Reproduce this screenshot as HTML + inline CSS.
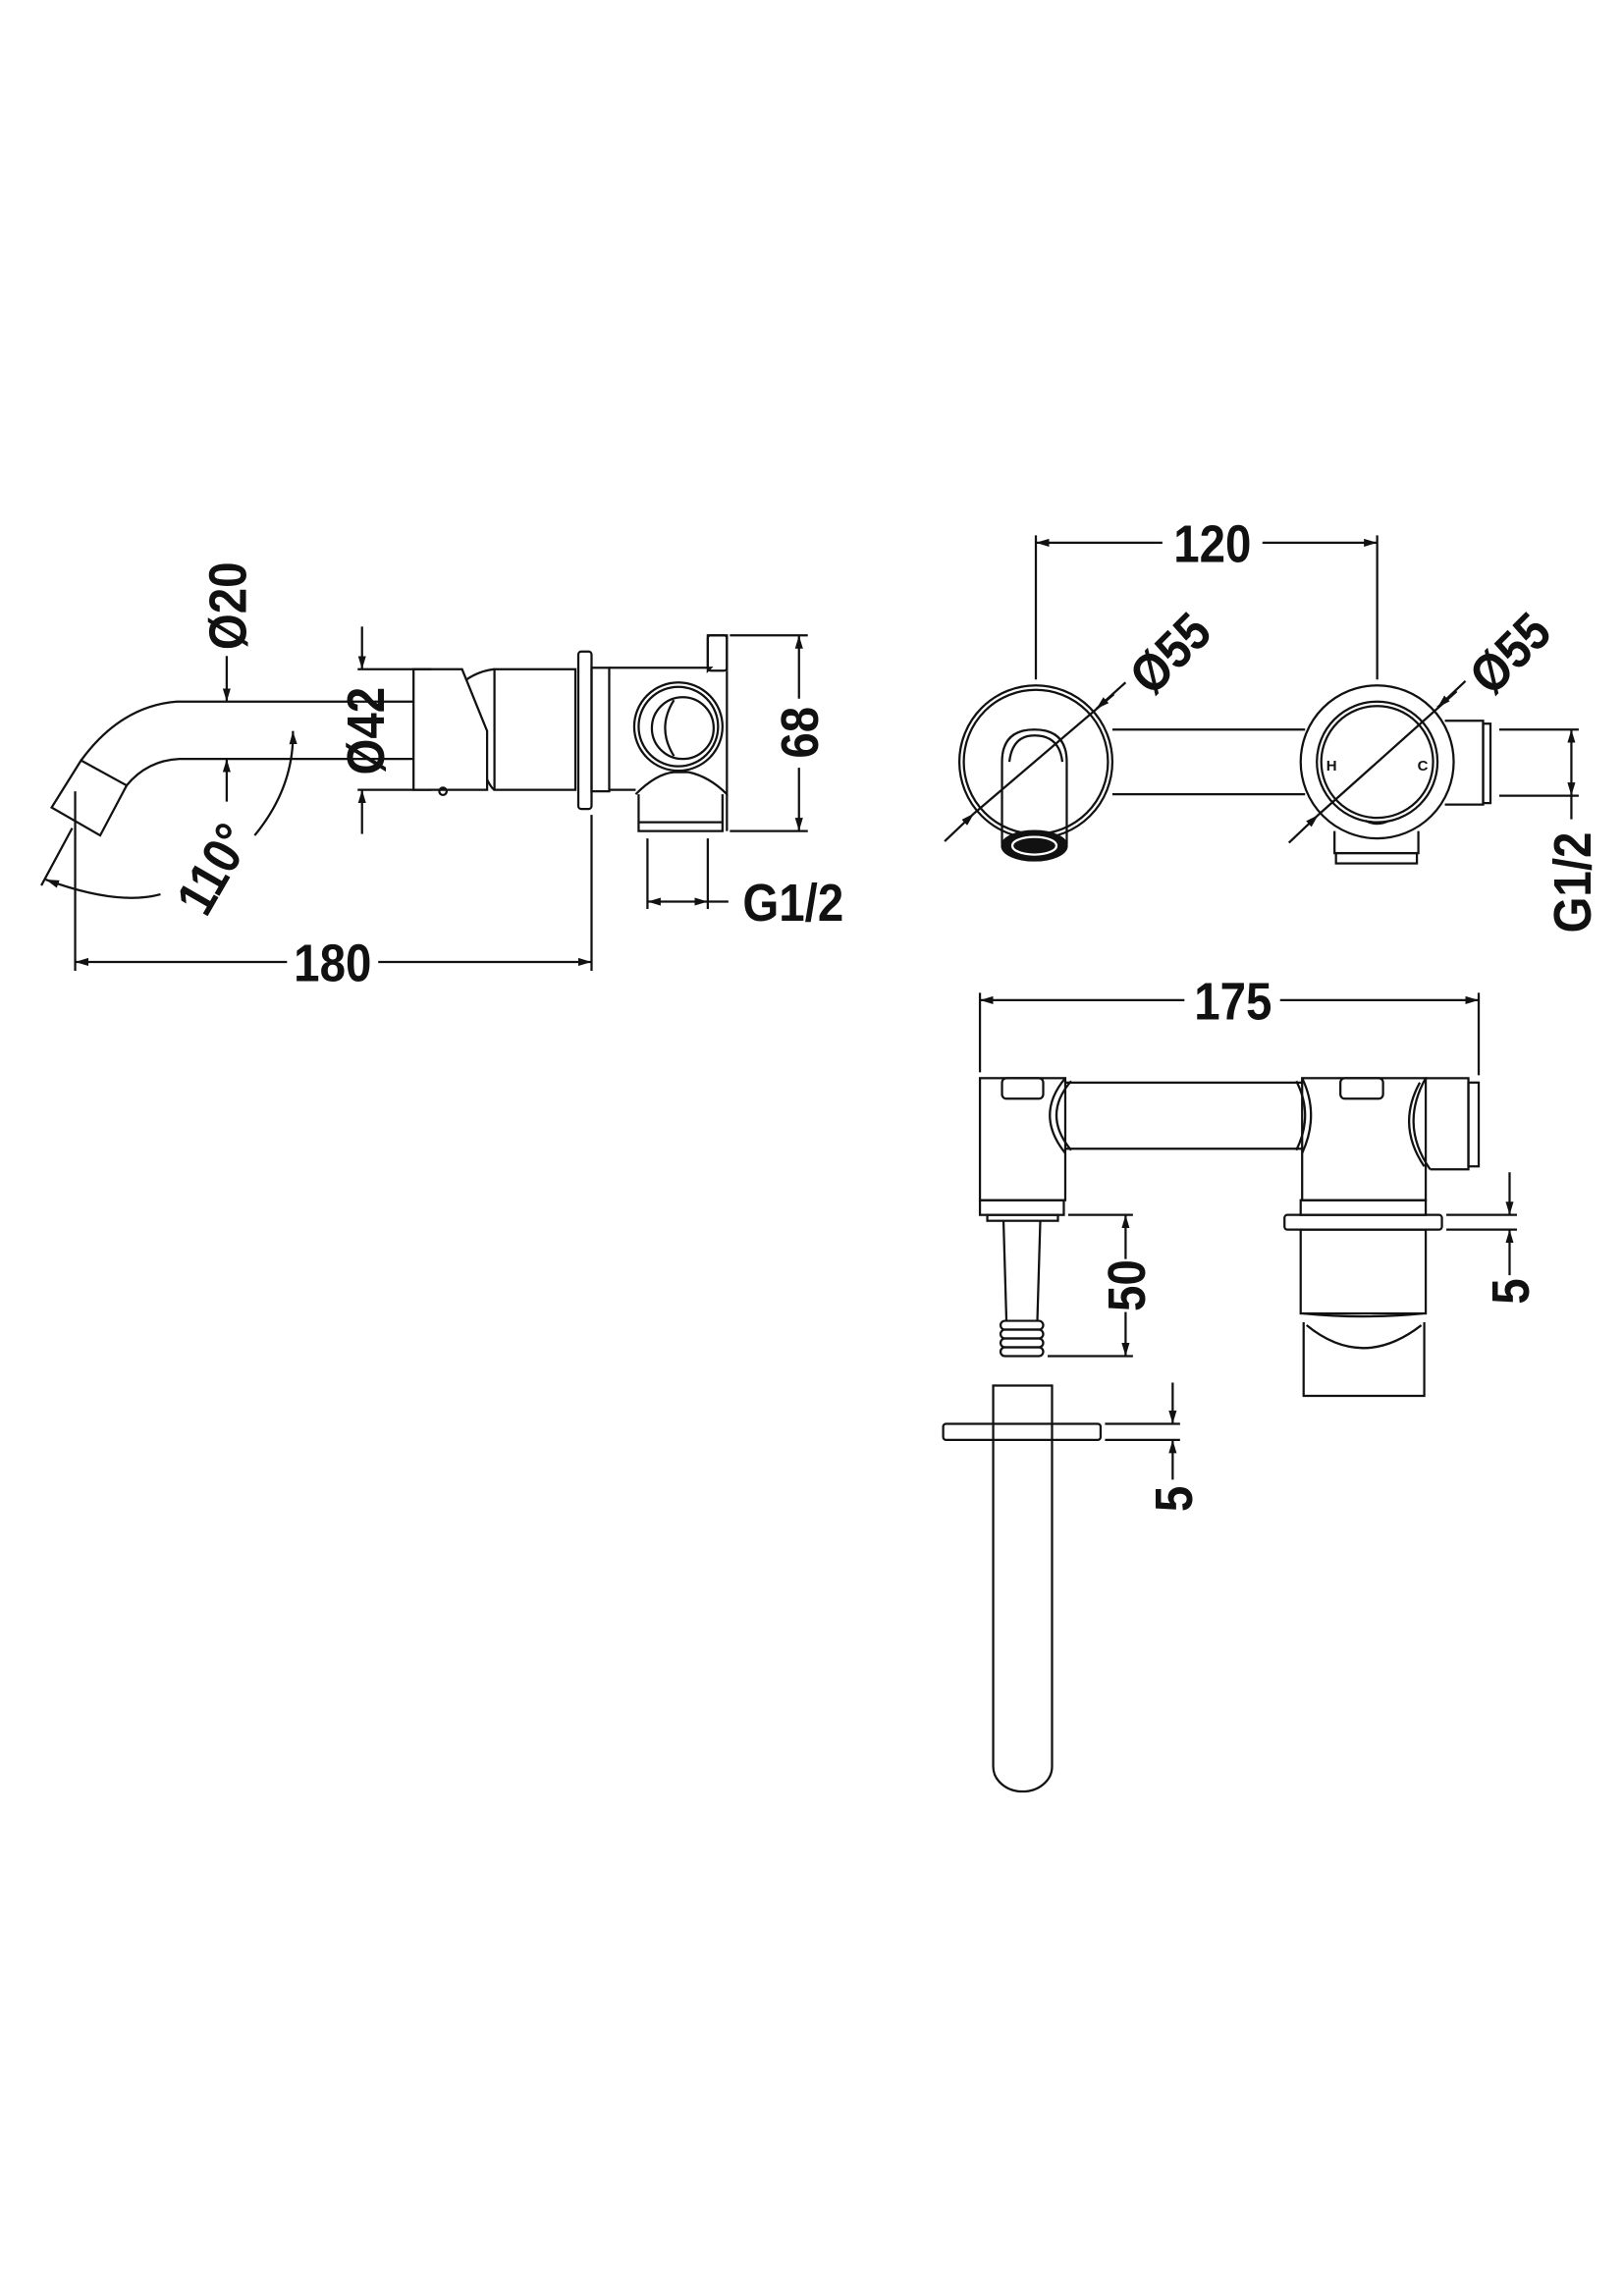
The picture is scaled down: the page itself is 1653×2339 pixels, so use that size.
<!DOCTYPE html>
<html><head><meta charset="utf-8"><style>
html,body{margin:0;padding:0;background:#fff}
svg{display:block}
text{font-family:"Liberation Sans",sans-serif;font-weight:bold;fill:#111}
</style></head><body>
<svg width="1653" height="2339" viewBox="0 0 1103 1561" xmlns="http://www.w3.org/2000/svg">
<defs>
<marker id="a" viewBox="0 0 10 10" refX="10" refY="5" markerWidth="9" markerHeight="9" markerUnits="userSpaceOnUse" orient="auto-start-reverse"><path d="M0,2 L10,5 L0,8z" fill="#111"/></marker>
</defs>
<g fill="none" stroke="#111" stroke-width="1.5">
<!-- LEFT SIDE VIEW -->
<path d="M281,477 L120,477 Q82,480 55,517"/>
<path d="M281,516 L122,516 Q100,517 86,534"/>
<path d="M55,517 L86,534 L68,568 L35,549 Z"/>
<path d="M281,455 L314,455 L331,497 L331,537 L281,537 Z"/>
<path d="M317,462 Q326,456 336,455"/>
<path d="M331,530 Q334,536 336,537"/>
<circle cx="301" cy="538" r="2.5"/>
<rect x="336" y="455" width="55" height="82"/>
<rect x="393" y="443" width="9" height="107" rx="2"/>
<rect x="402" y="454" width="12" height="84"/>
<path d="M414,454 L483,454 L481,456 L481,432 L494,432 L494,456"/>
<rect x="481" y="432" width="13" height="24" rx="2"/>
<line x1="494" y1="456" x2="494" y2="565"/>
<line x1="414" y1="537" x2="432" y2="537"/>
<circle cx="461" cy="494" r="30"/>
<circle cx="461" cy="494" r="27"/>
<circle cx="464" cy="495" r="21"/>
<path d="M458,476 Q446,495 458,514"/>
<path d="M432,540 Q446,526 458,525 L468,525 Q482,528 494,540"/>
<path d="M434,540 L434,565 L491,565 L491,540"/>
<line x1="434" y1="559" x2="491" y2="559"/>
<line x1="243" y1="455" x2="293" y2="455"/>
<line x1="243" y1="537" x2="293" y2="537"/>
<line x1="246" y1="426" x2="246" y2="455" marker-end="url(#a)"/>
<line x1="246" y1="567" x2="246" y2="537" marker-end="url(#a)"/>
<line x1="154" y1="446" x2="154" y2="477" marker-end="url(#a)"/>
<line x1="154" y1="545" x2="154" y2="516" marker-end="url(#a)"/>
<line x1="496" y1="432" x2="549" y2="432"/>
<line x1="496" y1="565" x2="549" y2="565"/>
<line x1="543" y1="475" x2="543" y2="432" marker-end="url(#a)"/>
<line x1="543" y1="522" x2="543" y2="565" marker-end="url(#a)"/>
<line x1="440" y1="570" x2="440" y2="618"/>
<line x1="481" y1="570" x2="481" y2="618"/>
<line x1="440" y1="613" x2="481" y2="613" marker-start="url(#a)" marker-end="url(#a)"/>
<line x1="481" y1="613" x2="495" y2="613"/>
<line x1="51" y1="538" x2="51" y2="660"/>
<line x1="402" y1="554" x2="402" y2="660"/>
<line x1="51" y1="654" x2="195" y2="654" marker-start="url(#a)"/>
<line x1="257" y1="654" x2="402" y2="654" marker-end="url(#a)"/>
<line x1="49" y1="563" x2="28" y2="602"/>
<path d="M109,608 Q80,616 31,598" marker-end="url(#a)"/>
<path d="M173,568 Q200,535 199,497" marker-end="url(#a)"/>

<!-- RIGHT TOP FRONT VIEW -->
<line x1="704" y1="364" x2="704" y2="462"/>
<line x1="936" y1="364" x2="936" y2="462"/>
<line x1="704" y1="369" x2="790" y2="369" marker-start="url(#a)"/>
<line x1="858" y1="369" x2="936" y2="369" marker-end="url(#a)"/>
<circle cx="704" cy="518" r="52"/>
<circle cx="704" cy="518" r="49"/>
<path d="M756,496 L887,496 M756,540 L887,540"/>
<path d="M681,574 L681,518 Q681,496 703,496 Q725,496 725,518 L725,574"/>
<path d="M686,518 Q688,500 703,500 Q720,500 722,518"/>
<ellipse cx="703" cy="575" rx="22" ry="10" fill="#111"/>
<ellipse cx="703" cy="575" rx="15" ry="6" stroke="#fff"/>
<circle cx="936" cy="518" r="52"/>
<circle cx="936" cy="518" r="41"/>
<circle cx="936" cy="518" r="38"/>
<path d="M928,558 Q936,562 944,558"/>
<path d="M982,490 L1008,490 L1008,547 L982,547"/>
<rect x="1008" y="492" width="5" height="54"/>
<path d="M907,565 L907,580 L964,580 L964,565"/>
<rect x="908" y="580" width="55" height="7"/>
<line x1="1019" y1="496" x2="1073" y2="496"/>
<line x1="1019" y1="541" x2="1073" y2="541"/>
<line x1="1068" y1="496" x2="1068" y2="541" marker-start="url(#a)" marker-end="url(#a)"/>
<line x1="1068" y1="541" x2="1068" y2="557"/>
<line x1="642" y1="572" x2="662" y2="553" marker-end="url(#a)"/>
<line x1="662" y1="553" x2="757" y2="472"/>
<line x1="765" y1="464" x2="745" y2="482" marker-end="url(#a)"/>
<line x1="876" y1="573" x2="896" y2="554" marker-end="url(#a)"/>
<line x1="896" y1="554" x2="990" y2="470"/>
<line x1="996" y1="463" x2="977" y2="481" marker-end="url(#a)"/>

<!-- RIGHT BOTTOM PLAN VIEW -->
<line x1="666" y1="675" x2="666" y2="729"/>
<line x1="1005" y1="675" x2="1005" y2="731"/>
<line x1="666" y1="680" x2="805" y2="680" marker-start="url(#a)"/>
<line x1="870" y1="680" x2="1005" y2="680" marker-end="url(#a)"/>
<rect x="666" y="733" width="58" height="83"/>
<rect x="681" y="733" width="28" height="14" rx="3"/>
<rect x="666" y="816" width="57" height="10"/>
<rect x="671" y="826" width="48" height="4"/>
<path d="M682,830 L684,898 M707,830 L705,898"/>
<rect x="680" y="898" width="29" height="6" rx="3"/>
<rect x="680" y="904" width="29" height="6" rx="3"/>
<rect x="680" y="910" width="29" height="6" rx="3"/>
<rect x="680" y="916" width="29" height="6" rx="3"/>
<line x1="726" y1="826" x2="770" y2="826"/>
<line x1="712" y1="922" x2="770" y2="922"/>
<line x1="765" y1="856" x2="765" y2="826" marker-end="url(#a)"/>
<line x1="765" y1="892" x2="765" y2="922" marker-end="url(#a)"/>
<path d="M724,736 L885,736 M724,781 L885,781"/>
<path d="M724,733 Q703,758 724,784"/>
<path d="M728,735 Q708,758 728,782"/>
<path d="M885,733 Q897,758 885,784"/>
<path d="M881,735 Q893,758 881,782"/>
<rect x="885" y="733" width="84" height="83"/>
<rect x="911" y="733" width="29" height="14" rx="3"/>
<path d="M969,733 Q951,765 972,795"/>
<path d="M965,736 Q949,765 968,793"/>
<path d="M969,733 L998,733 L998,795 L972,795"/>
<rect x="998" y="736" width="7" height="57"/>
<rect x="884" y="816" width="85" height="10"/>
<rect x="873" y="826" width="107" height="10" rx="2"/>
<rect x="884" y="836" width="85" height="57"/>
<path d="M886,893 Q926,897 967,893"/>
<path d="M886,899 L886,949 L968,949 L968,899"/>
<path d="M888,901 Q926,932 966,901"/>
<line x1="983" y1="826" x2="1031" y2="826"/>
<line x1="983" y1="836" x2="1031" y2="836"/>
<line x1="1026" y1="797" x2="1026" y2="826" marker-end="url(#a)"/>
<line x1="1026" y1="867" x2="1026" y2="836" marker-end="url(#a)"/>
<path d="M675,942 L675,1201 A20,17 0 0 0 715,1201 L715,942 Z"/>
<rect x="641" y="968" width="107" height="11" rx="2"/>
<line x1="751" y1="968" x2="802" y2="968"/>
<line x1="751" y1="979" x2="802" y2="979"/>
<line x1="797" y1="940" x2="797" y2="968" marker-end="url(#a)"/>
<line x1="797" y1="1006" x2="797" y2="979" marker-end="url(#a)"/>
</g>
<g font-size="36">
<text transform="translate(167,412) rotate(-90) scale(0.88,1)" text-anchor="middle">Ø20</text>
<text transform="translate(261,497) rotate(-90) scale(0.88,1)" text-anchor="middle">Ø42</text>
<text transform="translate(556,498) rotate(-90) scale(0.88,1)" text-anchor="middle">68</text>
<text transform="translate(156,597) rotate(-60) scale(0.88,1)" text-anchor="middle">110°</text>
<text transform="translate(226,667) scale(0.88,1)" text-anchor="middle">180</text>
<text transform="translate(539,626) scale(0.88,1)" text-anchor="middle">G1/2</text>
<text transform="translate(824,382) scale(0.88,1)" text-anchor="middle">120</text>
<text transform="translate(804,453) rotate(-45) scale(0.88,1)" text-anchor="middle">Ø55</text>
<text transform="translate(1035,453) rotate(-45) scale(0.88,1)" text-anchor="middle">Ø55</text>
<text transform="translate(1081,600) rotate(-90) scale(0.88,1)" text-anchor="middle">G1/2</text>
<text transform="translate(838,693) scale(0.88,1)" text-anchor="middle">175</text>
<text transform="translate(778,874) rotate(-90) scale(0.88,1)" text-anchor="middle">50</text>
<text transform="translate(1039,878) rotate(-90) scale(0.88,1)" text-anchor="middle">5</text>
<text transform="translate(810,1019) rotate(-90) scale(0.88,1)" text-anchor="middle">5</text>
</g>
<text x="905" y="524" font-size="10" text-anchor="middle">H</text>
<text x="967" y="524" font-size="10" text-anchor="middle">C</text>
</svg>
</body></html>
